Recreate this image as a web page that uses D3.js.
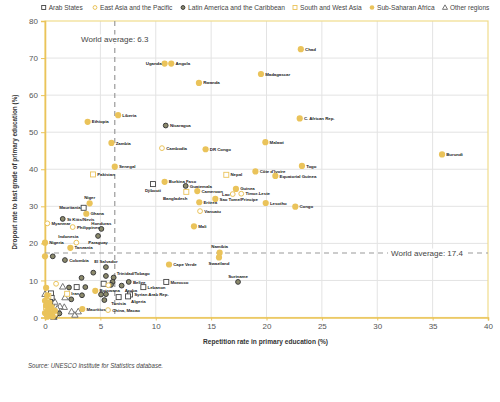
<!DOCTYPE html>
<html><head><meta charset="utf-8">
<script src="https://cdn.jsdelivr.net/npm/d3@7"></script>
<style>
body{margin:0;background:#fff;}
text{font-family:"Liberation Sans Narrow","Arial Narrow","Liberation Sans",sans-serif;}
</style></head>
<body><svg id="c" width="500" height="402"></svg>
<script>
// ---- data ----
const xTicks = [0,5,10,15,20,25,30,35,40];
const yTicks = [0,10,20,30,40,50,60,70,80];
const worldAvgRepetition = 6.3;
const worldAvgDropout = 17.4;
const regionNames = ["Arab States","East Asia and the Pacific","Latin America and the Caribbean","South and West Asia","Sub-Saharan Africa","Other regions"];

// [country, repetition rate %, dropout rate %]
const arabStates = [
 ["Djibouti",9.75,36.0],["Mauritania",3.49,29.6],["Morocco",10.95,9.6],["Lebanon",8.88,8.2],
 ["Syrian Arab Rep.",7.67,6.2],["Algeria",7.5,5.7],["Tunisia",6.65,5.5],
 ["",5.3,9.1],["",2.86,8.2],["",0.54,6.5],["",0.6,5.3],["",0.45,4.2],["",0.3,3.2]
];
const eastAsiaPacific = [
 ["Cambodia",10.56,45.7],["Lao",16.95,33.3],["Timor-Leste",17.72,33.4],["Vanuatu",14.0,28.7],
 ["Myanmar",0.21,25.4],["Philippines",2.5,24.4],["Indonesia",2.83,20.2],["China, Macao",5.69,2.0],
 ["",1.0,9.1],["",5.72,8.7],["",0.4,2.0],["",0.9,0.8],["",0.2,4.5]
];
const latinAmerica = [
 ["Nicaragua",10.9,51.8],["Guatemala",12.7,35.5],["St Kitts/Nevis",1.6,26.6],["Honduras",5.09,23.9],
 ["Paraguay",4.79,22.0],["Colombia",1.8,15.5],["El Salvador",5.5,13.6],["Trinidad/Tobago",6.2,10.8],
 ["Belize",7.56,9.6],["Aruba",6.92,8.6],["Suriname",17.43,9.6],
 ["",0.7,16.5],["",3.3,10.7],["",4.36,12.1],["",5.5,11.2],["",2.17,8.1],["",3.64,8.2],["",3.34,6.0],
 ["",2.37,4.9],["",5.06,6.2],["",5.5,6.3],["",5.36,4.7],["",6.1,9.6],["",5.96,8.8],["",0.6,1.5],
 ["",0.9,0.4],["",1.3,1.1]
];
const southWestAsia = [
 ["Pakistan",4.33,38.6],["Nepal",16.37,38.5],["Bangladesh",12.76,33.9],["Iran",2.0,6.4],
 ["",0.3,5.8],["",0.1,2.8]
];
const subSaharanAfrica = [
 ["Chad",23.1,72.4],["Uganda",10.8,68.5],["Angola",11.4,68.5],["Madagascar",19.5,65.7],["Rwanda",13.9,63.3],
 ["Liberia",6.6,54.6],["C. African Rep.",23.0,53.7],["Ethiopia",3.85,52.8],["Malawi",19.9,47.3],
 ["Zambia",6.0,47.1],["DR Congo",14.5,45.4],["Burundi",35.85,44.0],["Togo",23.2,40.9],["Senegal",6.3,40.7],
 ["Côte d'Ivoire",19.0,39.4],["Equatorial Guinea",20.8,38.2],["Burkina Faso",10.8,36.6],["Guinea",17.24,34.7],
 ["Cameroon",13.75,34.1],["Sao Tome/Principe",15.38,32.0],["Eritrea",13.93,31.1],["Lesotho",19.93,30.9],
 ["Niger",4.03,30.8],["Congo",22.6,29.9],["Ghana",3.73,28.0],["Mali",13.45,24.6],["Nigeria",0.0,20.2],
 ["Tanzania",2.29,18.8],["Namibia",15.77,17.5],["Swaziland",15.71,16.2],["Cape Verde",11.2,14.3],
 ["Botswana",4.54,7.2],["Mauritius",3.37,2.3],
 ["",0.0,16.5],["",0.1,8.0],["",0.2,6.0],["",0.0,4.5],["",0.4,4.0],["",0.1,3.2],["",0.3,2.2],
 ["",0.0,1.2],["",0.5,1.0],["",0.2,0.2],["",0.7,0.3],["",0.6,2.8],["",0.9,1.8]
];
const otherRegions = [
 ["",1.6,8.3],["",1.8,5.4],["",1.74,2.8],["",1.35,3.0],["",2.4,1.6],["",2.7,0.7],["",3.0,1.6],
 ["",1.0,1.1],["",0.0,6.3],["",0.3,5.2],["",0.6,3.8],["",0.9,4.2],["",1.1,2.4],["",0.4,0.6],["",0.8,0.1]
];
const labelPlacement = {
 "Uganda":"l","Mauritania":"l","Lao":"l","Niger":"t","Namibia":"t","Swaziland":"b","Djibouti":"b",
 "Bangladesh":"bl","Honduras":"t","Paraguay":"b","Indonesia":"tl","El Salvador":"t","Trinidad/Tobago":"tr",
 "Aruba":"br","Suriname":"t","Tunisia":"b","Algeria":"br"
};

// ---- chart ----
const svg = d3.select("#c");
const x = d3.scaleLinear().domain([0,40]).range([45,488]);
const y = d3.scaleLinear().domain([0,80]).range([317.5,21]);
const YEL = "#EAC35A", FRAME="#F0DC8C";

// grid
svg.append("g").selectAll("line").data(xTicks.slice(1,-1)).join("line")
 .attr("x1",d=>x(d)).attr("x2",d=>x(d)).attr("y1",y(80)).attr("y2",y(0))
 .attr("stroke","#e3e3e3").attr("stroke-width",1);
svg.append("g").selectAll("line").data(yTicks.slice(1,-1)).join("line")
 .attr("y1",d=>y(d)).attr("y2",d=>y(d)).attr("x1",x(0)).attr("x2",x(40))
 .attr("stroke","#e3e3e3").attr("stroke-width",1);
// frame
svg.append("rect").attr("x",x(0)).attr("y",y(80)).attr("width",x(40)-x(0)).attr("height",y(0)-y(80))
 .attr("fill","none").attr("stroke",FRAME).attr("stroke-width",1.2);

// axes
const xAxis = svg.append("g").attr("transform",`translate(0,${y(0)})`)
 .call(d3.axisBottom(x).tickValues(xTicks).tickSize(3).tickPadding(3));
const yAxis = svg.append("g").attr("transform",`translate(${x(0)},0)`)
 .call(d3.axisLeft(y).tickValues(yTicks).tickSize(4).tickPadding(3));
[xAxis,yAxis].forEach(a=>{
  a.select(".domain").attr("stroke",YEL).attr("stroke-width",1.6);
  a.selectAll(".tick line").attr("stroke",YEL);
  a.selectAll(".tick text").attr("fill","#555").style("font-size","8px")
   .style("font-family",'"Liberation Sans Narrow","Liberation Sans",sans-serif');
});

// world averages
svg.append("line").attr("x1",x(worldAvgRepetition)).attr("x2",x(worldAvgRepetition))
 .attr("y1",y(80)).attr("y2",y(0)).attr("stroke","#9a9a9a").attr("stroke-width",1.2).attr("stroke-dasharray","5,4");
svg.append("line").attr("y1",y(worldAvgDropout)).attr("y2",y(worldAvgDropout))
 .attr("x1",x(0)).attr("x2",x(40)).attr("stroke","#9a9a9a").attr("stroke-width",1.2).attr("stroke-dasharray","5,4");
function avgLabel(tx,ty,str){
  const t = svg.append("text").attr("x",tx).attr("y",ty).attr("text-anchor","middle")
   .attr("fill","#444").style("font-size","8px").text(str);
  const b = t.node().getBBox();
  svg.insert("rect",()=>t.node()).attr("x",b.x-3).attr("y",b.y).attr("width",b.width+6).attr("height",b.height).attr("fill","#fff");
}
avgLabel(x(worldAvgRepetition), 41.5, "World average: " + worldAvgRepetition);
avgLabel(427, y(worldAvgDropout)+2.5, "World average: " + worldAvgDropout);

// markers
const styles = [
 {data:arabStates, shape:"square", fill:"#fff", stroke:"#444"},
 {data:eastAsiaPacific, shape:"circle", fill:"#fff", stroke:YEL},
 {data:latinAmerica, shape:"circle", fill:"#8c8a6c", stroke:"#3a3a3a"},
 {data:southWestAsia, shape:"square", fill:"#fff", stroke:YEL},
 {data:subSaharanAfrica, shape:"dot", fill:YEL, stroke:"none"},
 {data:otherRegions, shape:"triangle", fill:"#fff", stroke:"#666"}
];
function drawMarker(g, shape, fill, stroke, cx, cy, s){
  s = s||1;
  if(shape==="square") g.append("rect").attr("x",cx-2.5*s).attr("y",cy-2.5*s).attr("width",5*s).attr("height",5*s)
    .attr("fill",fill).attr("stroke",stroke).attr("stroke-width",0.9);
  else if(shape==="circle") g.append("circle").attr("cx",cx).attr("cy",cy).attr("r",2.4*s)
    .attr("fill",fill).attr("stroke",stroke).attr("stroke-width",1);
  else if(shape==="dot") g.append("circle").attr("cx",cx).attr("cy",cy).attr("r",3.1*s).attr("fill",fill);
  else g.append("path").attr("d",`M${cx},${cy-3.3*s}L${cx+3.2*s},${cy+2.3*s}L${cx-3.2*s},${cy+2.3*s}Z`)
    .attr("fill",fill).attr("stroke",stroke).attr("stroke-width",0.9);
}
const mg = svg.append("g");
[5,0,3,2,1,4].forEach(i=>{
  const st = styles[i];
  st.data.forEach(d=>drawMarker(mg, st.shape, st.fill, st.stroke, x(d[1]), y(d[2])));
});

// point labels
const lg = svg.append("g").attr("fill","#222").style("font-size","4.4px").style("font-weight","bold")
 .style("letter-spacing","-0.05px");
styles.forEach(st=>st.data.filter(d=>d[0]).forEach(d=>{
  const px=x(d[1]), py=y(d[2]), p=labelPlacement[d[0]]||"r";
  let tx=px+4.2, ty=py+1.6, anc="start";
  if(p==="l"){tx=px-3.0; anc="end";}
  else if(p==="t"){tx=px; ty=py-4.2; anc="middle";}
  else if(p==="b"){tx=px; ty=py+8; anc="middle";}
  else if(p==="bl"){tx=px+1; ty=py+8; anc="end";}
  else if(p==="tl"){tx=px+2; ty=py-4.2; anc="end";}
  else if(p==="tr"){tx=px+3; ty=py-2.5; anc="start";}
  else if(p==="br"){tx=px+3; ty=py+6.8; anc="start";}
  lg.append("text").attr("x",tx).attr("y",ty).attr("text-anchor",anc).text(d[0]);
}));

// legend
const legX = [43.7,95,183,295,372,445];
const legLen = [34,72.4,97,61.6,57.6,39.3];
const leg = svg.append("g");
styles.forEach((st,i)=>{
  drawMarker(leg, st.shape, st.fill, st.stroke, legX[i], 7.5, st.shape==="dot"?0.75:0.8);
  leg.append("text").attr("x",legX[i]+5).attr("y",10.3).attr("fill","#444").style("font-size","8px")
   .attr("textLength",legLen[i]).attr("lengthAdjust","spacingAndGlyphs").text(regionNames[i]);
});

// titles
svg.append("text").attr("x",265.5).attr("y",343.5).attr("text-anchor","middle").attr("fill","#333")
 .style("font-size","8px").style("font-weight","bold").attr("textLength",125).attr("lengthAdjust","spacingAndGlyphs")
 .text("Repetition rate in primary education (%)");
svg.append("text").attr("transform","translate(16.5,172) rotate(-90)").attr("text-anchor","middle").attr("fill","#333")
 .style("font-size","8px").style("font-weight","bold").attr("textLength",155).attr("lengthAdjust","spacingAndGlyphs")
 .text("Dropout rate to last grade of primary education (%)");
svg.append("text").attr("x",28).attr("y",368).attr("fill","#444").style("font-size","7px").style("font-style","italic")
 .attr("textLength",135).attr("lengthAdjust","spacingAndGlyphs")
 .text("Source: UNESCO Institute for Statistics database.");
</script></body></html>
